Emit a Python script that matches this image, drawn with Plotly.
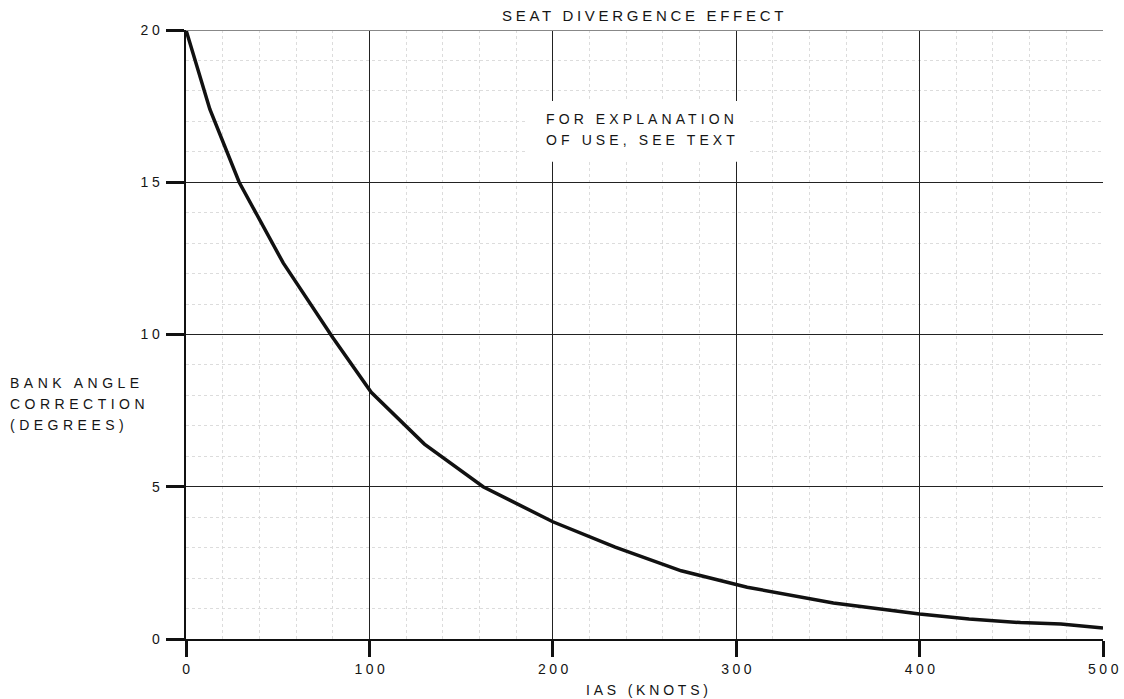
import plotly.graph_objects as go

# Seat divergence effect: bank angle correction vs. indicated airspeed
ias_knots = [0, 13, 29, 53, 80, 101, 130, 162, 200, 234, 270, 306, 353, 400, 427, 455, 477, 500]
bank_correction_deg = [20.0, 17.4, 15.0, 12.35, 9.9, 8.1, 6.4, 5.0, 3.85, 3.02, 2.24, 1.7, 1.18, 0.82, 0.66, 0.54, 0.49, 0.36]

x_ticks = [0, 100, 200, 300, 400, 500]
y_ticks = [0, 5, 10, 15, 20]

title_text = "SEAT DIVERGENCE EFFECT"
note_lines = ["FOR EXPLANATION", "OF USE, SEE TEXT"]
y_title_lines = ["BANK ANGLE", "CORRECTION", "(DEGREES)"]
x_title_text = "IAS (KNOTS)"

FONT = "Liberation Sans, Arial, sans-serif"
INK = "#151515"


def spaced(text, px):
    """Wrap text in a span with extra tracking (wide technical lettering)."""
    return f"<span style='letter-spacing:{px}px'>{text}</span>"


fig = go.Figure()
fig.add_trace(go.Scatter(
    x=ias_knots, y=bank_correction_deg, mode="lines",
    line=dict(color="#111111", width=3.5), hoverinfo="skip", showlegend=False,
))

axis_common = dict(
    showgrid=True, gridcolor="#222222", gridwidth=1,
    zeroline=False, showline=True, linecolor="#111111", linewidth=2,
    ticks="outside", tickcolor="#111111", tickwidth=2.5,
    tickfont=dict(family=FONT, size=14, color=INK),
    automargin=False,
)

fig.update_xaxes(
    range=[0, 500], tickvals=x_ticks, ticktext=[spaced(str(v), 3.5) for v in x_ticks],
    ticklen=16, ticklabelshift=2,
    minor=dict(dtick=20, showgrid=True, gridcolor="#dcdcdc", griddash="dot", gridwidth=1, ticks=""),
    **axis_common,
)
fig.update_yaxes(
    range=[0, 20], tickvals=y_ticks, ticktext=[spaced(str(v), 3.5) for v in y_ticks],
    ticklen=18,
    minor=dict(dtick=1, showgrid=True, gridcolor="#dcdcdc", griddash="dot", gridwidth=1, ticks=""),
    **axis_common,
)

# top border at 20 degrees
fig.add_shape(type="line", xref="x", yref="y", x0=0, x1=500, y0=20, y1=20,
              line=dict(color="#888888", width=2))

# white panel behind the note, covering the grid but not the curve
fig.add_shape(type="rect", xref="x", yref="y", x0=186.5, x1=306.5, y0=15.67, y1=17.67,
              fillcolor="white", line=dict(width=0), layer="between")

fig.add_annotation(text=spaced(title_text, 3.7), xref="x", yref="paper",
                   x=250, y=1.0, yshift=15, yanchor="middle", showarrow=False,
                   font=dict(family=FONT, size=15, color=INK))

for line, yv in zip(note_lines, [17.08, 16.39]):
    fig.add_annotation(text=spaced(line, 4.1), xref="x", yref="y",
                       x=195.0, xanchor="left", y=yv, yanchor="middle", showarrow=False,
                       font=dict(family=FONT, size=14, color=INK))

for line, yv in zip(y_title_lines, [8.41, 7.72, 7.03]):
    fig.add_annotation(text=spaced(line, 4.5), xref="paper", yref="y",
                       x=-0.1938, xanchor="left", y=yv, yanchor="middle", showarrow=False,
                       font=dict(family=FONT, size=14, color=INK))

fig.add_annotation(text=spaced(x_title_text, 3.8), xref="x", yref="paper",
                   x=252.5, y=0, yshift=-51, yanchor="middle", showarrow=False,
                   font=dict(family=FONT, size=14, color=INK))

fig.update_layout(
    width=1124, height=699,
    margin=dict(l=186, r=21, t=30, b=60),
    paper_bgcolor="white", plot_bgcolor="white",
)

fig.write_html("out.html")
